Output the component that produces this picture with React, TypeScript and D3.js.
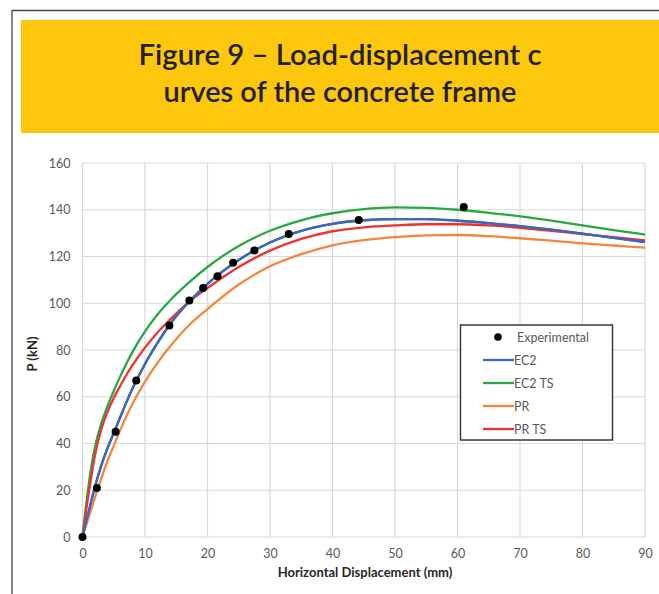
import { useEffect, useRef } from "react";
import * as d3 from "d3";

// displacement samples (mm) for the model curves
const curveX = [0, 0.5, 1, 1.5, 2, 3, 4, 5, 6, 7, 8, 10, 12, 14, 17, 20, 25, 30, 35, 40, 45, 50, 55, 60, 65, 70, 75, 80, 85, 90];

// loads (kN)
const ec2 = [0, 5.5, 11, 16.3, 21.5, 30.5, 38, 44.5, 51, 57.5, 63.5, 74, 83, 91, 100.5, 108.3, 118.5, 126, 131, 134, 135.5, 136, 136, 135.3, 134.3, 133, 131.5, 129.8, 128, 126.2];
const ec2Ts = [0, 12, 22.5, 31.5, 38.5, 48.5, 56, 62.5, 68.5, 74, 79.2, 88, 95.2, 101.2, 108.8, 115.5, 124.5, 131, 135.5, 138.5, 140.3, 141, 140.8, 140, 138.7, 137.2, 135.3, 133.3, 131.3, 129.4];
const pr = [0, 4.3, 8.5, 12.8, 17, 25, 32.5, 39, 45.5, 51.5, 57, 66.5, 74.5, 81.5, 90.5, 97.5, 108, 115.8, 121, 124.8, 127, 128.3, 129, 129.2, 128.7, 127.8, 126.8, 125.6, 124.7, 123.8];
const prTs = [0, 9.8, 19, 27.5, 35, 46, 53.5, 59.5, 64.5, 69.2, 73.5, 81, 87.5, 93, 100.5, 106.5, 115.5, 122.5, 127.5, 130.8, 132.5, 133.3, 133.8, 133.8, 133.3, 132.3, 131, 129.6, 128.3, 126.9];

// experimental points
const expX = [0, 2.3, 5.3, 8.6, 13.9, 17.1, 19.3, 21.6, 24.1, 27.5, 33, 44.2, 61];
const expY = [0, 21, 45, 67, 90.5, 101.2, 106.5, 111.6, 117.3, 122.6, 129.6, 135.6, 141.2];

const xTicks = [0, 10, 20, 30, 40, 50, 60, 70, 80, 90];
const yTicks = [0, 20, 40, 60, 80, 100, 120, 140, 160];

const seriesNames = ["EC2", "EC2 TS", "PR", "PR TS"];
const seriesColors = ["#3b68bd", "#27a844", "#f5853a", "#ec3232"];

export default function App() {
  const svgRef = useRef<SVGSVGElement | null>(null);

  useEffect(() => {
    const width = 659;
    const height = 594;
    const svg = d3.select(svgRef.current).attr("width", width).attr("height", height);
    svg.selectAll("*").remove();

    const font = "Lato, 'Open Sans', sans-serif";

    // outer frame + title banner
    svg.append("rect").attr("width", width).attr("height", height).attr("fill", "#fff");
    svg.append("path").attr("d", `M12,${height} L12,10.5 L${width},10.5`)
      .attr("fill", "none").attr("stroke", "#444").attr("stroke-width", 1.3);
    svg.append("rect").attr("x", 21).attr("y", 20).attr("width", width - 21).attr("height", 113)
      .attr("fill", "#fcc70d");

    const titleLines = ["Figure 9 – Load-displacement c", "urves of the concrete frame"];
    const titleW = [403, 353];
    titleLines.forEach((t, i) => {
      svg.append("text")
        .attr("x", 340).attr("y", 65 + i * 37)
        .attr("text-anchor", "middle")
        .attr("font-family", font).attr("font-weight", 600).attr("font-size", 29)
        .attr("fill", "#231f20")
        .attr("textLength", titleW[i]).attr("lengthAdjust", "spacingAndGlyphs")
        .text(t);
    });

    const x = d3.scaleLinear().domain([0, 90]).range([82.5, 645]);
    const y = d3.scaleLinear().domain([0, 160]).range([537, 163]);

    // grid
    const grid = svg.append("g").attr("stroke", "#d9d9d9").attr("stroke-width", 1.2);
    grid.selectAll("line.h").data(yTicks).join("line")
      .attr("x1", x(0)).attr("x2", x(90)).attr("y1", d => y(d)).attr("y2", d => y(d));
    grid.selectAll("line.v").data(xTicks).join("line").attr("class", "v")
      .attr("y1", y(0)).attr("y2", y(160)).attr("x1", d => x(d)).attr("x2", d => x(d));

    // axes (labels only, Excel-style)
    const xAxis = svg.append("g").attr("transform", `translate(0,${y(0)})`)
      .call(d3.axisBottom(x).tickValues(xTicks).tickSize(0).tickPadding(12));
    const yAxis = svg.append("g").attr("transform", `translate(${x(0)},0)`)
      .call(d3.axisLeft(y).tickValues(yTicks).tickSize(0).tickPadding(12));
    [xAxis, yAxis].forEach(a => {
      a.select(".domain").remove();
      a.selectAll("text").attr("font-family", font).attr("font-size", 12.5).attr("fill", "#595959");
    });

    svg.append("text").attr("x", 365).attr("y", 577).attr("text-anchor", "middle")
      .attr("font-family", font).attr("font-weight", 700).attr("font-size", 13).attr("fill", "#262626")
      .text("Horizontal Displacement (mm)");
    svg.append("text").attr("transform", "translate(37,354) rotate(-90)").attr("text-anchor", "middle")
      .attr("font-family", font).attr("font-weight", 700).attr("font-size", 13).attr("fill", "#262626")
      .text("P (kN)");

    // curves
    const line = d3.line<number>()
      .x((_, i) => x(curveX[i]))
      .y(d => y(d))
      .curve(d3.curveMonotoneX);
    [ec2, ec2Ts, pr, prTs].forEach((s, i) => {
      svg.append("path").datum(s).attr("d", line)
        .attr("fill", "none").attr("stroke", seriesColors[i]).attr("stroke-width", 2.3);
    });
    // blue drawn on top of red like the original
    svg.append("path").datum(ec2).attr("d", line)
      .attr("fill", "none").attr("stroke", seriesColors[0]).attr("stroke-width", 2.3);

    svg.append("g").selectAll("circle").data(expX).join("circle")
      .attr("cx", d => x(d)).attr("cy", (_, i) => y(expY[i])).attr("r", 4).attr("fill", "#000");

    // legend
    const lg = svg.append("g");
    lg.append("rect").attr("x", 460.5).attr("y", 325).attr("width", 152).attr("height", 115)
      .attr("fill", "#fff").attr("stroke", "#3a3a3a").attr("stroke-width", 1.5);
    lg.append("circle").attr("cx", 498).attr("cy", 337).attr("r", 3.8).attr("fill", "#000");
    lg.append("text").attr("x", 517).attr("y", 341.5).attr("font-family", font).attr("font-size", 12.5)
      .attr("fill", "#595959").text("Experimental");
    seriesNames.forEach((n, i) => {
      const yy = 360 + i * 23;
      lg.append("line").attr("x1", 483).attr("x2", 514).attr("y1", yy).attr("y2", yy)
        .attr("stroke", seriesColors[i]).attr("stroke-width", 2.3);
      lg.append("text").attr("x", 514).attr("y", yy + 4.5).attr("font-family", font).attr("font-size", 12.5)
        .attr("fill", "#595959").text(n);
    });
  }, []);

  return (
    <div style={{ position: "absolute", left: 0, top: 0 }}>
      <svg ref={svgRef}></svg>
    </div>
  );
}
